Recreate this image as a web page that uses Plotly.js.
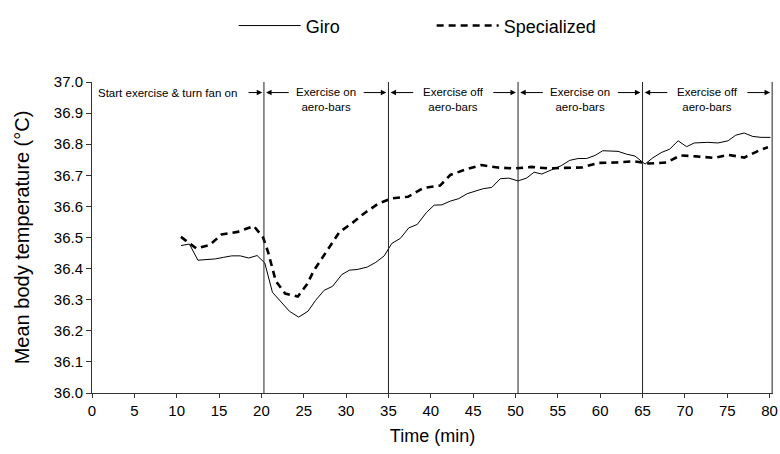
<!DOCTYPE html>
<html>
<head>
<meta charset="utf-8">
<script src="https://cdn.plot.ly/plotly-3.0.1.min.js"></script>
<style>html,body{margin:0;padding:0;background:#fff;}#chart{width:780px;height:454px;}</style>
</head>
<body>
<div id="chart"></div>
<script>
// ---- data ----
const giroTime = [10.5,11.5,12.5,13.5,14.5,15.5,16.5,17.5,18.5,19.5,20.4,21.3,22.2,23.3,24.4,25.5,26.4,27.4,28.4,29.5,30.4,31.3,32.5,33.5,34.5,35.4,36.4,37.4,38.4,39.5,40.4,41.3,42.3,43.3,44.3,45.3,46.2,47.2,48.2,49.2,50.3,51.3,52.2,53.1,54.3,55.4,56.4,57.4,58.4,59.4,60.3,61.2,62.1,63.1,64.1,65.3,66.2,67.2,68.2,69.2,70.2,71.1,72.7,73.9,75.1,76.0,77.0,78.0,79.0,80.1];
const giroTemp = [36.474,36.479,36.427,36.429,36.431,36.436,36.441,36.441,36.434,36.442,36.418,36.324,36.298,36.263,36.244,36.263,36.298,36.330,36.343,36.381,36.395,36.397,36.405,36.420,36.441,36.481,36.497,36.531,36.542,36.581,36.604,36.605,36.617,36.625,36.641,36.649,36.657,36.661,36.689,36.691,36.682,36.691,36.710,36.704,36.717,36.731,36.748,36.754,36.754,36.764,36.779,36.779,36.777,36.768,36.762,36.736,36.756,36.773,36.784,36.811,36.792,36.804,36.806,36.804,36.811,36.829,36.836,36.825,36.822,36.822];
const specTime = [10.5,12.3,13.9,15.3,17.2,19.1,20.2,20.8,21.7,22.8,24.3,25.4,26.2,27.2,28.2,29.2,30.7,32.2,33.8,35.4,37.3,39.1,41.1,42.3,44.2,46.0,47.9,49.9,51.9,53.9,55.8,57.8,59.8,61.8,63.9,65.8,67.8,69.5,71.3,73.5,75.1,77.0,79.0,79.8];
const specTemp = [36.502,36.465,36.476,36.510,36.518,36.537,36.500,36.452,36.360,36.320,36.310,36.350,36.394,36.434,36.475,36.517,36.546,36.579,36.609,36.626,36.631,36.659,36.667,36.701,36.720,36.733,36.725,36.722,36.727,36.722,36.724,36.725,36.740,36.741,36.745,36.738,36.741,36.764,36.761,36.756,36.766,36.757,36.783,36.790];
const seriesNames = ["Giro", "Specialized"];
const phaseStart = [0, 20.3, 35, 50.3, 65];
const phaseEnd = [20.3, 35, 50.3, 65, 80.3];
const phaseLabels = ["Start exercise & turn fan on", "Exercise on<br>aero-bars", "Exercise off<br>aero-bars", "Exercise on<br>aero-bars", "Exercise off<br>aero-bars"];

const FONT = "Liberation Sans, Arial, sans-serif";

const traces = [
  {x: giroTime, y: giroTemp, name: seriesNames[0], type: "scatter", mode: "lines",
   line: {color: "#000", width: 1}},
  {x: specTime, y: specTemp, name: seriesNames[1], type: "scatter", mode: "lines",
   line: {color: "#000", width: 2.6, dash: "7px,5px"}}
];

const shapes = phaseEnd.map(v => ({type: "line", xref: "x", yref: "y", x0: v, x1: v, y0: 36, y1: 37.01,
  line: {color: "#222", width: 1}}));

const annotations = [];
const arrowY = 36.966;
const annFont = {family: FONT, size: 11.5, color: "#000"};
phaseLabels.forEach((lab, i) => {
  const s = phaseStart[i], e = phaseEnd[i];
  if (i === 0) {
    annotations.push({x: s + 0.45, y: arrowY, xref: "x", yref: "y", text: lab, showarrow: false,
      xanchor: "left", yanchor: "middle", font: annFont});
    annotations.push({x: e - 0.2, y: arrowY, ax: e - 2.0, ay: arrowY, xref: "x", yref: "y", axref: "x", ayref: "y",
      text: "", showarrow: true, arrowhead: 2, arrowsize: 1.1, arrowwidth: 1, arrowcolor: "#000", standoff: 0});
  } else {
    const mid = (s + e) / 2;
    annotations.push({x: mid, y: 36.992, xref: "x", yref: "y", text: lab, showarrow: false,
      xanchor: "center", yanchor: "top", align: "center", font: annFont});
    annotations.push({x: s + 0.25, y: arrowY, ax: s + 3.1, ay: arrowY, xref: "x", yref: "y", axref: "x", ayref: "y",
      text: "", showarrow: true, arrowhead: 2, arrowsize: 1.1, arrowwidth: 1, arrowcolor: "#000", standoff: 0});
    annotations.push({x: e - 0.25, y: arrowY, ax: e - 3.1, ay: arrowY, xref: "x", yref: "y", axref: "x", ayref: "y",
      text: "", showarrow: true, arrowhead: 2, arrowsize: 1.1, arrowwidth: 1, arrowcolor: "#000", standoff: 0});
  }
});

const layout = {
  width: 780, height: 454,
  margin: {l: 92, r: 7, t: 75, b: 61},
  paper_bgcolor: "#fff", plot_bgcolor: "#fff",
  font: {family: FONT, size: 15, color: "#000"},
  showlegend: true,
  legend: {orientation: "h", x: 0.208, xanchor: "left", y: 1.24, yanchor: "top",
    itemwidth: 62, entrywidth: 121, font: {family: FONT, size: 18, color: "#000"}, bgcolor: "rgba(0,0,0,0)"},
  xaxis: {range: [0, 80.4], tick0: 0, dtick: 5, showgrid: false, zeroline: false,
    showline: true, linecolor: "#333", linewidth: 1, ticks: "outside", ticklen: 4, tickcolor: "#333",
    tickfont: {family: FONT, size: 15, color: "#000"},
    title: {text: "Time (min)", font: {family: FONT, size: 18, color: "#000"}, standoff: 11}},
  yaxis: {range: [36, 37], tick0: 36, dtick: 0.1, tickformat: ".1f", showgrid: false, zeroline: false,
    showline: true, linecolor: "#333", linewidth: 1, ticks: "outside", ticklen: 5, tickcolor: "#333",
    tickfont: {family: FONT, size: 15, color: "#000"},
    title: {text: "Mean body temperature (°C)", font: {family: FONT, size: 20, color: "#000"}, standoff: 18}},
  shapes: shapes,
  annotations: annotations
};

Plotly.newPlot("chart", traces, layout, {displayModeBar: false, staticPlot: true});
</script>
</body>
</html>
